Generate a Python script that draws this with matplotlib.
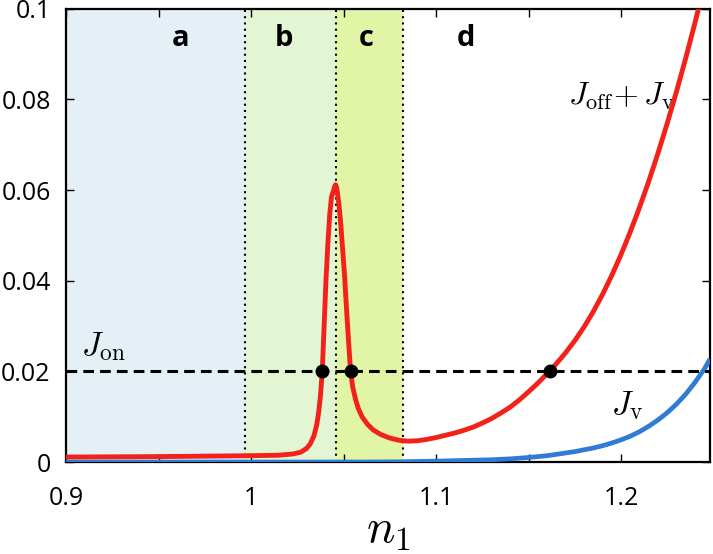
import matplotlib
matplotlib.use("Agg")
import matplotlib.pyplot as plt

# ---- data ----
n1_red = [0.900, 0.950, 1.000, 1.015, 1.023, 1.027, 1.030, 1.032, 1.034, 1.0355,
          1.0365, 1.0375, 1.0385, 1.0395, 1.0405, 1.0415, 1.0425, 1.0435, 1.0445,
          1.0452, 1.0457, 1.0463, 1.0475, 1.0485, 1.0495, 1.0505, 1.0515, 1.0525,
          1.0538, 1.055, 1.0565, 1.058, 1.060, 1.063, 1.066, 1.070, 1.075, 1.080,
          1.085, 1.090, 1.095, 1.100, 1.105, 1.110, 1.115, 1.120, 1.125, 1.130,
          1.135, 1.140, 1.145, 1.150, 1.155, 1.160, 1.165, 1.170, 1.175, 1.180,
          1.185, 1.190, 1.195, 1.200, 1.205, 1.210, 1.215, 1.220, 1.225, 1.230,
          1.235, 1.240, 1.245, 1.250]
j_off_plus_v = [0.0011, 0.0012, 0.0014, 0.0015, 0.0018, 0.0022, 0.0030, 0.0040,
                0.0058, 0.0082, 0.0108, 0.0145, 0.0200, 0.0300, 0.0400, 0.0480,
                0.0545, 0.0585, 0.0598, 0.0608, 0.0612, 0.0605, 0.0570, 0.0525,
                0.0470, 0.0415, 0.0345, 0.0280, 0.0200, 0.0165, 0.0138, 0.0118,
                0.0100, 0.0083, 0.0071, 0.0061, 0.0053, 0.0048, 0.0046, 0.0047,
                0.0050, 0.0054, 0.0059, 0.0064, 0.0070, 0.0077, 0.0086, 0.0096,
                0.0108, 0.0121, 0.0137, 0.0155, 0.0174, 0.0195, 0.0217, 0.0241,
                0.0268, 0.0298, 0.0332, 0.0370, 0.0412, 0.0458, 0.0508, 0.0562,
                0.0620, 0.0682, 0.0748, 0.0818, 0.0892, 0.0970, 0.1052, 0.1140]

n1_blue = [0.900, 1.000, 1.060, 1.080, 1.100, 1.110, 1.120, 1.130, 1.140, 1.150,
           1.155, 1.160, 1.165, 1.170, 1.175, 1.180, 1.185, 1.190, 1.195, 1.200,
           1.205, 1.210, 1.215, 1.220, 1.225, 1.230, 1.235, 1.240, 1.245, 1.248]
j_v = [0.0, 0.0, 0.0, 0.00005, 0.0002, 0.0003, 0.0004, 0.0005, 0.0007, 0.0010,
       0.0012, 0.0014, 0.0017, 0.0020, 0.0023, 0.0027, 0.0031, 0.0036, 0.0042,
       0.0049, 0.0057, 0.0067, 0.0079, 0.0093, 0.0109, 0.0128, 0.0150, 0.0176,
       0.0205, 0.0227]

j_on = 0.02
crossings = [1.0385, 1.0538, 1.1616]
boundaries = [0.9, 0.997, 1.0457, 1.082]
region_labels = ["a", "b", "c", "d"]
region_label_x = [0.962, 1.018, 1.062, 1.116]
region_colors = ["#e4eff6", "#e2f6d3", "#e2f5a6"]

xticks = [0.9, 1.0, 1.1, 1.2]
xticklabels = ["0.9", "1", "1.1", "1.2"]
yticks = [0, 0.02, 0.04, 0.06, 0.08, 0.1]
yticklabels = ["0", "0.02", "0.04", "0.06", "0.08", "0.1"]

# ---- figure ----
plt.rcParams["mathtext.fontset"] = "cm"
fig = plt.figure(figsize=(7.13, 5.54), dpi=100)
ax = fig.add_axes([0.0926, 0.166, 0.903, 0.818])
xmin, xmax = 0.9, 1.248
ax.set_xlim(xmin, xmax)
ax.set_ylim(0, 0.1)

for i, c in enumerate(region_colors):
    ax.axvspan(boundaries[i], boundaries[i + 1], color=c, lw=0, zorder=0)
for b in boundaries[1:]:
    ax.axvline(b, color="black", ls=(0, (1, 2)), lw=1.5, zorder=1)

ax.plot(n1_blue, j_v, color="#2f7bd6", lw=3.4, zorder=3, solid_capstyle="butt")
ax.plot(n1_red, j_off_plus_v, color="#f2221a", lw=3.5, zorder=4)
ax.plot([xmin, xmax], [j_on, j_on], color="black", ls=(0, (3.5, 2)), lw=2.2, zorder=5)
ax.plot(crossings, [j_on] * len(crossings), "o", color="black", ms=9, zorder=6)

for lab, x in zip(region_labels, region_label_x):
    ax.text(x, 0.0935, lab, ha="center", va="center", fontsize=21,
            fontweight="bold", family="Open Sans")

ax.text(0.908, 0.0236, r"$J_{\rm on}$", fontsize=24)
ax.text(1.1714, 0.0788, r"$J_{\rm off}\!+J_{\rm v}$", fontsize=23)
ax.text(1.1945, 0.0106, r"$J_{\rm v}$", fontsize=24)

ax.set_xticks(xticks)
ax.set_xticklabels(xticklabels)
ax.set_yticks(yticks)
ax.set_yticklabels(yticklabels)
ax.set_xticks([0.95, 1.05, 1.15], minor=True)
ax.tick_params(which="both", direction="in", top=True, right=True, length=6, width=1)
ax.tick_params(which="minor", length=6)
ax.tick_params(axis="x", pad=17)
ax.tick_params(axis="y", pad=11)
for lab in ax.get_xticklabels() + ax.get_yticklabels():
    lab.set_fontfamily("Open Sans")
    lab.set_fontsize(18)
for s in ax.spines.values():
    s.set_linewidth(1.6)

fig.text(0.545, 1 - 543 / 554, r"$n_1$", fontsize=34, ha="center", va="baseline")

fig.savefig("out.png", dpi=100)
